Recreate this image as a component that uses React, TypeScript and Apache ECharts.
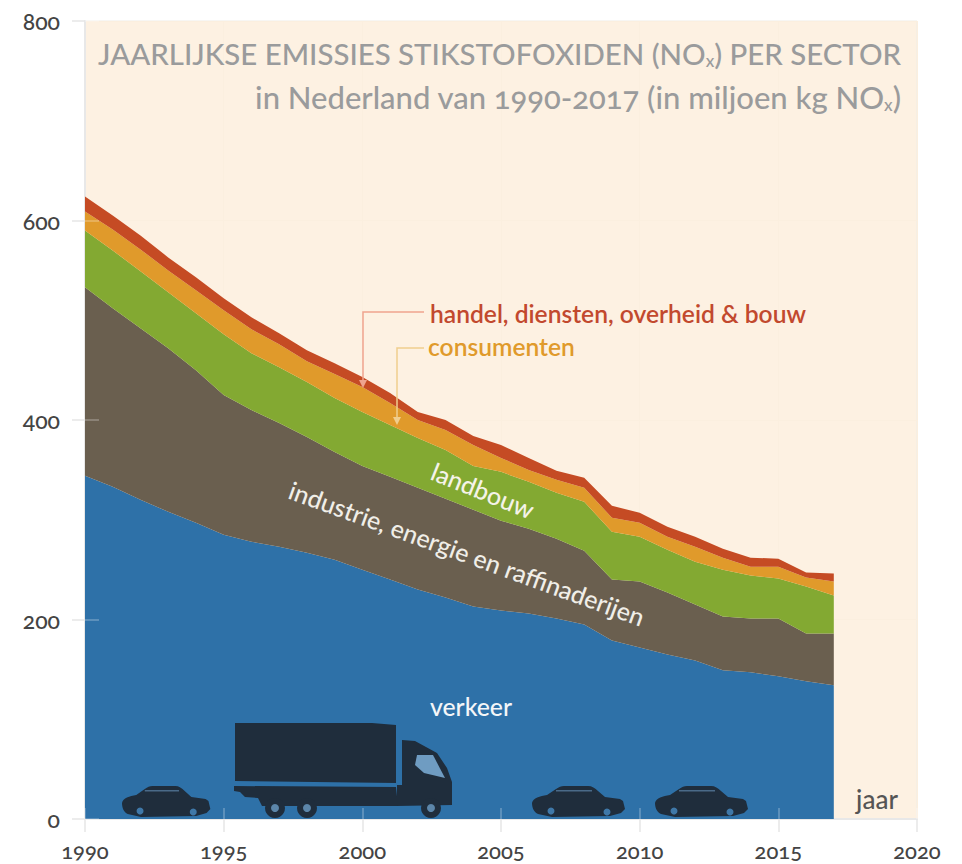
import React, { useEffect, useRef } from "react";
import * as echarts from "echarts";

const axisYears = ["1990","1991","1992","1993","1994","1995","1996","1997","1998","1999","2000","2001","2002","2003","2004","2005","2006","2007","2008","2009","2010","2011","2012","2013","2014","2015","2016","2017","2018","2019","2020"];
const verkeer = [344,333,320,308,297,285,278,273,267,260,250,240,230,222,213,209,206,201,195,179,172,165,159,149,147,143,138,134];
const industrie = [189,179,172,164,153,140,132,124,116,108,104,103,102,99,97,90,85,80,74,61,66,62,56,54,54,58,48,52];
const landbouw = [57,58,57,56,57,61,57,56,55,54,54,52,50,49,44,49,47,46,49,48,45,43,43,47,43,40,47,38];
const consumenten = [19,21,22,22,23,24,24,23,21,24,25,22,18,20,21,14,12,13,14,14,14,13,15,12,9,12,9,14];
const handel = [15,14,14,13,13,12,12,11,11,11,10,10,8,10,9,13,12,9,10,12,10,10,10,9,9,8,5,8];

const FONT = "Lato";
const DARK = "#1F2D3C";
const BLUE = "#2E71A8";

echarts.graphic.registerShape(
  "autoShape",
  echarts.graphic.extendPath(
    "M0,17 C1,12 8,10 15,9 L24,3 C27,1 29,0 32,0 L56,0 C60,0 63,2 66,5 L73,11 L88,13 L91,15 L93,23 L89,27 L78,30 L20,31 L6,28 C2,26 0,22 0,17 Z",
    {}
  )
);

function car(x: number, y: number, sx: number) {
  return [
    { type: "autoShape", x, y, scaleX: sx, scaleY: 1, z: 10, style: { fill: DARK } },
    { type: "rect", x: x + 24 * sx, y: y + 4, shape: { width: 36 * sx, height: 1.5 }, z: 11, style: { fill: "#4a6a88" } },
    { type: "circle", x: x + 19 * sx, y: y + 25, shape: { r: 3.5 }, z: 11, style: { fill: "#3f78a8" } },
    { type: "circle", x: x + 75 * sx, y: y + 26, shape: { r: 3.5 }, z: 11, style: { fill: "#3f78a8" } },
  ];
}

function truck() {
  const poly = (points: number[][], fill: string, z = 10) => ({ type: "polygon", shape: { points }, z, style: { fill } });
  const wheels = [275, 307, 431].flatMap((cx) => [
    { type: "circle", x: cx, y: 808, shape: { r: 10 }, z: 11, style: { fill: DARK } },
    { type: "circle", x: cx, y: 808, shape: { r: 4 }, z: 12, style: { fill: "#5c86aa" } },
  ]);
  return [
    poly([[235, 723], [372, 723], [396, 725], [396, 783], [235, 781]], DARK),
    poly([[234, 786], [396, 787], [398, 806], [262, 806], [258, 798], [245, 797], [240, 792], [234, 791]], DARK),
    poly([[402, 740], [415, 741], [437, 753], [447, 768], [452, 782], [452, 805], [397, 806], [397, 785], [402, 785]], DARK),
    poly([[417, 755], [433, 755], [445, 778], [424, 773], [415, 765]], "#6f9cc2", 11),
    ...wheels,
  ];
}

function leader(points: number[][], color: string) {
  const end = points[2];
  return [
    { type: "polyline", shape: { points }, z: 10, style: { stroke: color, lineWidth: 1.5, fill: "none" } },
    {
      type: "polygon",
      shape: { points: [[end[0] - 4, end[1] - 5], [end[0] + 4, end[1] - 5], [end[0], end[1] + 3]] },
      z: 10,
      style: { fill: color },
    },
  ];
}

const titleRich = (size: number) => ({
  a: { fontFamily: FONT, fontSize: size, fontWeight: 500, fill: "#9A9B9C" },
  s: { fontFamily: FONT, fontSize: 17, fontWeight: 500, fill: "#9A9B9C", padding: [14, 0, 0, 0] },
});

function buildOption() {
  const stackSeries = (name: string, values: number[], color: string) => ({
    name,
    type: "line",
    stack: "total",
    xAxisIndex: 0,
    yAxisIndex: 0,
    showSymbol: false,
    symbol: "none",
    silent: true,
    lineStyle: { width: 0 },
    areaStyle: { color, opacity: 1 },
    data: values,
  });
  const labelStyle = { color: "#444", fontFamily: FONT, fontWeight: 500 };
  return {
    animation: false,
    grid: {
      show: true,
      left: 85,
      right: 45,
      top: 21,
      bottom: 45,
      backgroundColor: "#FDF1E2",
      borderColor: "#EFECE6",
      borderWidth: 1,
    },
    xAxis: [
      {
        type: "category",
        data: axisYears,
        boundaryGap: false,
        axisLine: { show: true, lineStyle: { color: "#E8E8E8", width: 2 } },
        axisTick: { show: true, interval: 4, length: 13, lineStyle: { color: "#E6E6E6", width: 1.5 } },
        axisLabel: { ...labelStyle, fontSize: 22, interval: 4, margin: 20 },
        splitLine: { show: true, interval: 4, lineStyle: { color: "#FBEFDF", width: 1 } },
      },
      {
        type: "category",
        data: axisYears,
        boundaryGap: false,
        position: "bottom",
        z: 10,
        axisLine: { show: false },
        axisTick: { show: true, interval: 4, inside: true, length: 11, lineStyle: { color: "rgba(255,255,255,0.3)", width: 1.5 } },
        axisLabel: { show: false },
        splitLine: { show: false },
      },
    ],
    yAxis: [
      {
        type: "value",
        min: 0,
        max: 800,
        interval: 200,
        axisLine: { show: true, lineStyle: { color: "#E8E8E8", width: 2 } },
        axisTick: { show: true, length: 13, lineStyle: { color: "#E6E6E6", width: 1.5 } },
        axisLabel: { ...labelStyle, fontSize: 23, margin: 25 },
        splitLine: { show: true, lineStyle: { color: "#FBEFDF", width: 1 } },
      },
      {
        type: "value",
        min: 0,
        max: 800,
        interval: 200,
        position: "left",
        z: 10,
        axisLine: { show: false },
        axisTick: { show: true, inside: true, length: 14, lineStyle: { color: "rgba(255,255,255,0.3)", width: 1.5 } },
        axisLabel: { show: false },
        splitLine: { show: false },
      },
    ],
    series: [
      stackSeries("verkeer", verkeer, BLUE),
      stackSeries("industrie, energie en raffinaderijen", industrie, "#6A5F4F"),
      stackSeries("landbouw", landbouw, "#83A932"),
      stackSeries("consumenten", consumenten, "#E09A2B"),
      stackSeries("handel, diensten, overheid & bouw", handel, "#C54B24"),
    ],
    graphic: [
      {
        type: "text", x: 901, y: 53, z: 10,
        style: { text: "{a|JAARLIJKSE EMISSIES STIKSTOFOXIDEN (NO}{s|x}{a|) PER SECTOR}", align: "right", verticalAlign: "middle", fill: "#9A9B9C", rich: titleRich(29.4) },
      },
      {
        type: "text", x: 901, y: 97, z: 10,
        style: { text: "{a|in Nederland van 1990-2017 (in miljoen kg NO}{s|x}{a|)}", align: "right", verticalAlign: "middle", fill: "#9A9B9C", rich: titleRich(31) },
      },
      ...leader([[424, 312], [363, 312], [363, 385]], "#EFA48F"),
      ...leader([[424, 348], [397, 348], [397, 422]], "#F0CE8E"),
      {
        type: "text", x: 430, y: 313, z: 10,
        style: { text: "handel, diensten, overheid & bouw", fontFamily: FONT, fontSize: 24.6, fontWeight: 600, fill: "#C2492E", verticalAlign: "middle" },
      },
      {
        type: "text", x: 428, y: 346, z: 10,
        style: { text: "consumenten", fontFamily: FONT, fontSize: 24.6, fontWeight: 600, fill: "#E09A2B", verticalAlign: "middle" },
      },
      {
        type: "text", x: 483, y: 490, rotation: (-22 * Math.PI) / 180, z: 10,
        style: { text: "landbouw", fontFamily: FONT, fontSize: 25, fontWeight: 500, fill: "#F5F3E8", align: "center", verticalAlign: "middle" },
      },
      {
        type: "text", x: 467, y: 553, rotation: (-20 * Math.PI) / 180, z: 10,
        style: { text: "industrie, energie en raffinaderijen", fontFamily: FONT, fontSize: 25, fontWeight: 500, fill: "#F0EEE8", align: "center", verticalAlign: "middle" },
      },
      {
        type: "text", x: 471, y: 706, z: 10,
        style: { text: "verkeer", fontFamily: FONT, fontSize: 24.8, fontWeight: 500, fill: "#F4F6F8", align: "center", verticalAlign: "middle" },
      },
      {
        type: "text", x: 877, y: 799, z: 10,
        style: { text: "jaar", fontFamily: FONT, fontSize: 26, fontWeight: 500, fill: "#555", align: "center", verticalAlign: "middle" },
      },
      ...truck(),
      ...car(122, 786, 0.95),
      ...car(532, 786, 1),
      ...car(655, 786, 1),
    ],
  };
}

export default function App() {
  const ref = useRef<HTMLDivElement>(null);
  useEffect(() => {
    const chart = echarts.init(ref.current!, undefined, { renderer: "svg" });
    chart.setOption(buildOption() as any);
    return () => chart.dispose();
  }, []);
  return (
    <div
      ref={ref}
      style={{ position: "absolute", left: 0, top: 0, width: 962, height: 864, background: "#fff", fontVariantNumeric: "oldstyle-nums" }}
    />
  );
}
